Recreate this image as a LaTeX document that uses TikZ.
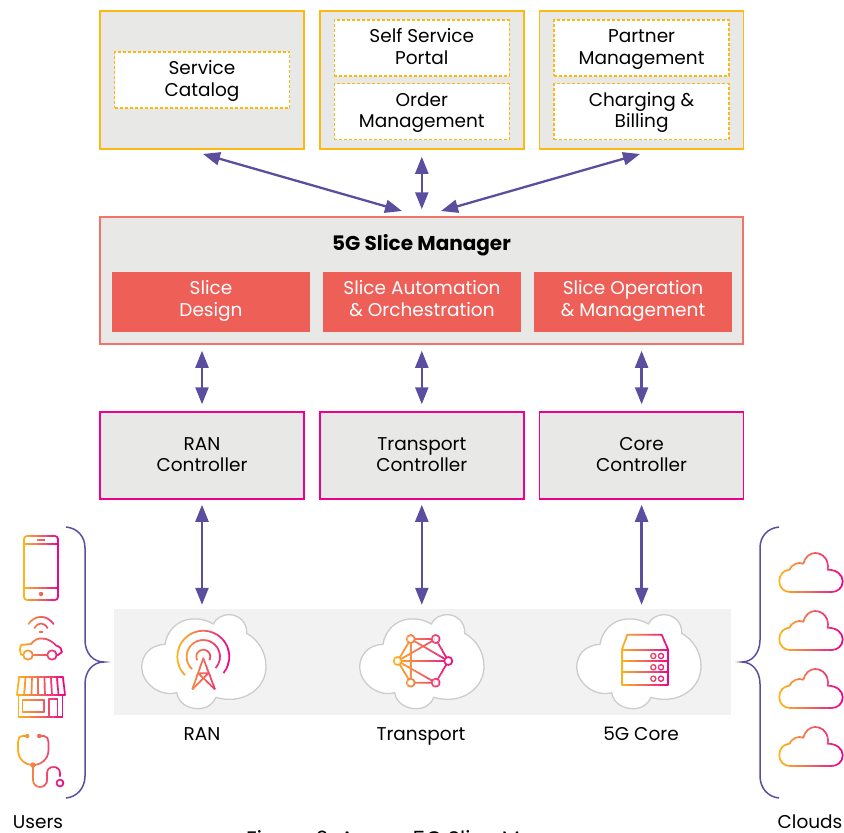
\documentclass[tikz,border=0pt]{standalone}
\usepackage{fontspec}
\setmainfont{Poppins}
\usetikzlibrary{positioning,arrows.meta}

\definecolor{boxgray}{HTML}{E8E8E7}
\definecolor{bandgray}{HTML}{F2F2F2}
\definecolor{cloudgray}{HTML}{CCCCCC}
\definecolor{amber}{HTML}{FDB913}
\definecolor{salmon}{HTML}{EE5F58}
\definecolor{rosered}{HTML}{F2736A}
\definecolor{magenta1}{HTML}{EC008C}
\definecolor{iconmid}{HTML}{F0675C}
\definecolor{arrowpurple}{HTML}{5B4E9F}

\newcommand{\gradicon}[5]{%
  \foreach \slice in {0,...,15}{%
    \pgfmathsetmacro{\tone}{(\slice+.5)/16*200}%
    \ifdim\tone pt<100pt
      \colorlet{gradcol}{iconmid!\tone!amber}%
    \else
      \pgfmathsetmacro{\toneb}{\tone-100}%
      \colorlet{gradcol}{magenta1!\toneb!iconmid}%
    \fi
    \begin{scope}
      \clip ({#1+(#2-#1)*\slice/16-.2},#3) rectangle ({#1+(#2-#1)*(\slice+1)/16+.2},#4);
      #5
    \end{scope}
  }}

\newcommand{\netcloud}[1]{%
  \begin{scope}[xshift=#1pt]
    \draw[cloudgray,fill=white,line width=1.3pt]
      (165,644.3) .. controls (150,645) and (141.7,655) .. (141.7,667.3)
      .. controls (141.7,681.7) and (158.3,697.3) .. (176.7,692.7)
      .. controls (178.3,703.3) and (188.3,708.7) .. (198.3,708.7)
      .. controls (206.7,708.7) and (213.3,704) .. (216,697.3)
      .. controls (220,698.7) and (225,699.3) .. (230,699.3)
      .. controls (250,699.3) and (266,685) .. (266,666.7)
      .. controls (266,651.7) and (258.3,640) .. (246.7,633.3)
      .. controls (247.3,621.7) and (238.3,614.7) .. (229.3,614.7)
      .. controls (221.7,614.7) and (216,618.3) .. (213.3,624)
      .. controls (206.7,620) and (198.3,618.3) .. (191.7,619)
      .. controls (176.7,620) and (166.7,631.7) .. (165,644.3) -- cycle;
  \end{scope}}

\newcommand{\skycloud}[1]{%
  \gradicon{778}{844}{#1-1}{#1+42}{%
    \draw[iconline,shift={(0,#1)}]
      (790,39) .. controls (783.3,39) and (779.3,34) .. (779.3,28.3)
      .. controls (779.3,21.7) and (783.3,17.3) .. (789.3,16.7)
      .. controls (791.7,11.7) and (798.3,8.3) .. (803.3,10.7)
      .. controls (805,4) and (810,0) .. (815,0)
      .. controls (823.3,0) and (829.3,7.3) .. (827.7,16.7)
      .. controls (836.7,16.7) and (842.7,21.7) .. (842.7,28.3)
      .. controls (842.7,35) and (837.3,39) .. (831.7,39) -- cycle;}}

\begin{document}
\begin{tikzpicture}[x=1pt,y=-1pt,
                    every node/.style={font=\fontsize{18.5}{21.5}\selectfont,align=center,inner sep=0pt},
                    twolines/.style={text height=35.5pt,text depth=3.5pt},
                    topbox/.style={rectangle,draw=amber,fill=boxgray,line width=1.5pt,minimum width=204pt,minimum height=138pt},
                    dashbox/.style={twolines,rectangle,draw=amber,fill=white,dash pattern=on 3pt off 2pt,line width=1.5pt,minimum width=175pt,minimum height=56pt},
                    redbox/.style={twolines,text depth=7.5pt,rectangle,fill=salmon,text=white,minimum width=198pt,minimum height=60pt},
                    ctlbox/.style={twolines,rectangle,draw=magenta1,fill=boxgray,line width=1.5pt,minimum width=204pt,minimum height=87pt},
                    linkarrow/.style={draw=arrowpurple,line width=2.3pt,{Triangle[length=17pt,width=13pt]}-{Triangle[length=17pt,width=13pt]}},
                    bracket/.style={draw=arrowpurple,line width=1.5pt},
                    iconline/.style={draw=gradcol,line width=1.7pt,line join=round}]
  \useasboundingbox (0,0) rectangle (844,833);

  \node[topbox] (catbox) at (202,80) {};
  \node[topbox,right=14.3pt of catbox] (orderbox) {};
  \node[topbox,right=14.3pt of orderbox] (partnerbox) {};

  \node[dashbox] (catalog) at (catbox) {Service\\Catalog};
  \node[dashbox,below=9pt of orderbox.north] (portal) {Self Service\\Portal};
  \node[dashbox,below=6pt of portal] (ordermgmt) {Order\\Management};
  \node[dashbox,below=9pt of partnerbox.north] (partner) {Partner\\Management};
  \node[dashbox,below=6pt of partner] (billing) {Charging \&\\Billing};

  \node[rectangle,draw=rosered,fill=boxgray,line width=1.5pt,minimum width=643pt,minimum height=127pt] (manager) at (421.5,280.5) {};
  \node[anchor=base,font=\fontsize{20}{24}\selectfont\bfseries] (managertitle) at (421.5,250) {5G Slice Manager};
  \node[redbox] (design) at (211,302) {Slice\\Design};
  \node[redbox,right=12.6pt of design] (automation) {Slice Automation\\\& Orchestration};
  \node[redbox,right=12.6pt of automation] (operation) {Slice Operation\\\& Management};

  \node[ctlbox] (ranctl) at (202,455.5) {RAN\\Controller};
  \node[ctlbox,right=14.3pt of ranctl] (transctl) {Transport\\Controller};
  \node[ctlbox,right=14.3pt of transctl] (corectl) {Core\\Controller};

  \node[rectangle,fill=bandgray,minimum width=617pt,minimum height=106pt] (band) at (422.5,662) {};

  \coordinate (catport) at (203,154);
  \coordinate (partnerport) at (640,154);
  \coordinate (managerleft) at (402,211);
  \coordinate (managerright) at (441,211);

  \path[every edge/.style={linkarrow},draw=none]
    (catport) edge (managerleft)
    (partnerport) edge (managerright)
    (orderbox.south) edge [shorten <=7pt,shorten >=7pt] (orderbox.south |- manager.north)
    (ranctl.north |- manager.south) edge [shorten <=6pt,shorten >=7pt] (ranctl.north)
    (transctl.north |- manager.south) edge [shorten <=6pt,shorten >=7pt] (transctl.north)
    (corectl.north |- manager.south) edge [shorten <=6pt,shorten >=7pt] (corectl.north)
    (ranctl.south) edge [shorten <=5pt,shorten >=4pt] (ranctl.south |- band.north)
    (transctl.south) edge [shorten <=5pt,shorten >=4pt] (transctl.south |- band.north)
    (corectl.south) edge [shorten <=5pt,shorten >=4pt] (corectl.south |- band.north);

  \netcloud{0}
  \netcloud{218}
  \netcloud{435}

  \node[anchor=base] (ranlabel) at (202,740.5) {RAN};
  \node[anchor=base] (translabel) at (421,740.5) {Transport};
  \node[anchor=base] (corelabel) at (641,740.5) {5G Core};
  \node[anchor=base] (users) at (38,828) {Users};
  \node[anchor=base] (clouds) at (810,828) {Clouds};
  \node[anchor=base,font=\fontsize{21}{24}\selectfont] (caption) at (421.5,846) {Figure 2: Arrcus 5G Slice Manager};

  \draw[bracket] (66,527) .. controls (77,528) and (85,536) .. (85,548) -- (85,640)
    .. controls (85,653) and (93,662) .. (104,662) .. controls (93,662) and (85,671) .. (85,684)
    -- (85,776) .. controls (85,788) and (77,797) .. (66,798);
  \draw[bracket] (779,527) .. controls (768,528) and (760,536) .. (760,548) -- (760,640)
    .. controls (760,653) and (752,662) .. (742,662) .. controls (752,662) and (760,671) .. (760,684)
    -- (760,776) .. controls (760,788) and (768,797) .. (779,798);

  \gradicon{23}{59}{534}{602}{%
    \draw[iconline,rounded corners=3pt] (24,536) rectangle (58,600);
    \draw[iconline] (24,544) -- (58,544) (24,588) -- (58,588) (37,540) -- (45,540);
    \fill[gradcol] (41,594) circle (2.2);}

  \gradicon{18}{64}{614}{662}{%
    \draw[iconline,line cap=round] (28.5,624) .. controls (35,614.5) and (47,614.5) .. (53.5,624);
    \draw[iconline,line cap=round] (34.5,628) .. controls (38,622) and (44,622) .. (47.5,628);
    \draw[iconline,line cap=round] (39.5,632) -- (42.5,632);
    \draw[iconline] (23,655) -- (21,654.5) .. controls (19.5,650) and (19.5,647) .. (21,645)
      -- (31,644) .. controls (34,640) and (38,638) .. (42,638.5) .. controls (48,638.5) and (53,642) .. (56,645.5)
      .. controls (60,646.5) and (62,649) .. (62,652) -- (58,655) -- (57,655);
    \draw[iconline] (33,655) -- (47,655);
    \draw[iconline] (28,655) circle (4.7) (52,655) circle (4.7);}

  \gradicon{16}{66}{675}{719}{%
    \draw[iconline] (19,677) -- (63,677) -- (65,695) -- (17,695) -- cycle;
    \draw[iconline] (25.5,677) -- (24,695) (32,677) -- (31.5,695) (38,677) -- (38,695)
      (44.5,677) -- (45,695) (51,677) -- (52,695) (57,677) -- (58.5,695);
    \draw[iconline] (18.5,695) -- (18.5,717) -- (62.5,717) -- (62.5,695);
    \draw[iconline] (22.5,700) rectangle (44,712);
    \draw[iconline] (49,717) -- (49,699) -- (57.5,699) -- (57.5,717);}

  \gradicon{16}{66}{733}{790}{%
    \draw[iconline] (27,736) -- (23,736) .. controls (19,736) and (18,739) .. (18,742) -- (18,750)
      .. controls (18,759) and (25,765) .. (33,765) .. controls (41,765) and (48.5,759) .. (48.5,750)
      -- (48.5,742) .. controls (48.5,739) and (47,736) .. (44,736) -- (39,736);
    \draw[iconline] (33,765) -- (33,780) .. controls (33,784) and (36,787) .. (40,787)
      .. controls (44,787) and (47,784) .. (47,780) -- (47,773) .. controls (47,769) and (50,767) .. (53.5,767)
      .. controls (57,767) and (60,769) .. (60,773) -- (60,776.5);
    \fill[gradcol] (27.3,736) circle (2.2) (39.3,736) circle (2.2) (33,765) circle (2.7);
    \draw[iconline] (60,783) circle (3.4);}

  \gradicon{176}{231}{628}{692}{%
    \draw[iconline] (203.3,656.7) ++(135:26) arc[start angle=135,end angle=399,radius=26];
    \draw[iconline] (203.3,656.7) ++(132:16.7) arc[start angle=132,end angle=403,radius=16.7];
    \draw[iconline] (203.3,656.7) ++(150:7) arc[start angle=150,end angle=390,radius=7];
    \draw[iconline] (192.3,689.3) -- (203.3,658.3) -- (215,689.3);
    \draw[iconline] (198.3,673.3) -- (208.3,673.3) (198.3,673.3) -- (215,689.3) (208.3,673.3) -- (192.3,689.3);}

  \gradicon{392}{454}{633}{688}{%
    \draw[iconline] (397.7,661) -- (410.7,639) -- (435.7,639) -- (448.3,661) -- (435.7,682.7) -- (410.7,682.7) -- cycle;
    \draw[iconline] (397.7,661) -- (448.3,661) (397.7,661) -- (435.7,639) (410.7,639) -- (448.3,661)
      (410.7,639) -- (410.7,682.7) (397.7,661) -- (435.7,682.7);
    \foreach \dotx/\doty in {397.7/661,410.7/639,435.7/639,448.3/661,435.7/682.7,410.7/682.7}
      \draw[iconline,fill=white] (\dotx,\doty) circle (4);}

  \gradicon{620}{670}{632}{687}{%
    \draw[iconline] (621.7,650) -- (627.3,634.7) -- (661.7,634.7) -- (668.3,650);
    \draw[iconline] (621.7,650) rectangle (668.3,685);
    \draw[iconline,line width=2.2pt] (621.7,650) -- (668.3,650) (621.7,661) -- (668.3,661) (621.7,672.3) -- (668.3,672.3);
    \foreach \doty in {656,667.3,678.7}
      \draw[iconline,line width=1.3pt] (653.3,\doty) circle (2.6) (661,\doty) circle (2.6);}

  \skycloud{553}
  \skycloud{611}
  \skycloud{669}
  \skycloud{727}
\end{tikzpicture}
\end{document}
